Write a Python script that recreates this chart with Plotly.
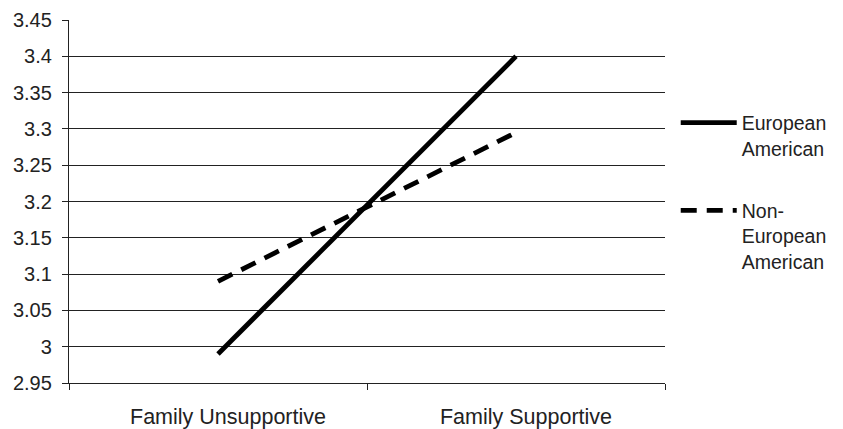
import plotly.graph_objects as go

categories = ["Family Unsupportive", "Family Supportive"]
european_american = [2.99, 3.40]
non_european_american = [3.09, 3.295]
series_names = ["European<br>American", "Non-<br>European<br>American"]
y_tick_vals = [2.95, 3.0, 3.05, 3.1, 3.15, 3.2, 3.25, 3.3, 3.35, 3.4, 3.45]
y_tick_text = ["2.95", "3", "3.05", "3.1", "3.15", "3.2", "3.25", "3.3", "3.35", "3.4", "3.45"]

FONT = "Liberation Sans, Arial, sans-serif"

fig = go.Figure()
fig.add_trace(go.Scatter(
    x=categories, y=european_american, mode="lines", name=series_names[0],
    line=dict(color="black", width=4.8), legendgroup="a",
))
fig.add_trace(go.Scatter(
    x=categories, y=non_european_american, mode="lines", name=series_names[1],
    line=dict(color="black", width=4.8, dash="16px,10px"), legendgroup="b",
))

fig.update_layout(
    width=835, height=421,
    margin=dict(l=61, r=178, t=12, b=46, autoexpand=False),
    paper_bgcolor="white", plot_bgcolor="white",
    font=dict(family=FONT, size=20, color="#222"),
    legend=dict(
        x=1.018, xanchor="left", y=0.77, yanchor="top",
        valign="top", tracegroupgap=34, itemwidth=56,
        font=dict(family=FONT, size=19.5, color="#222"),
        bgcolor="rgba(0,0,0,0)",
    ),
    xaxis=dict(
        type="category", range=[-0.5, 1.5], automargin=False,
        showgrid=False, showline=True, linecolor="#222", linewidth=1.3,
        ticks="outside", tickson="boundaries", ticklen=6, tickcolor="#222", tickwidth=1.3,
        tickfont=dict(family=FONT, size=21.5, color="#222"),
        ticklabelshift=10, ticklabelstandoff=14,
    ),
    yaxis=dict(
        range=[2.95, 3.45], tickvals=y_tick_vals, ticktext=y_tick_text, automargin=False,
        showgrid=True, gridcolor="#222", gridwidth=1.3,
        showline=True, linecolor="#222", linewidth=1.3,
        ticks="outside", ticklen=6, tickcolor="#222", tickwidth=1.3,
        tickfont=dict(family=FONT, size=20, color="#222"),
        ticklabelstandoff=6, zeroline=False,
    ),
)

fig.write_html("out.html")
